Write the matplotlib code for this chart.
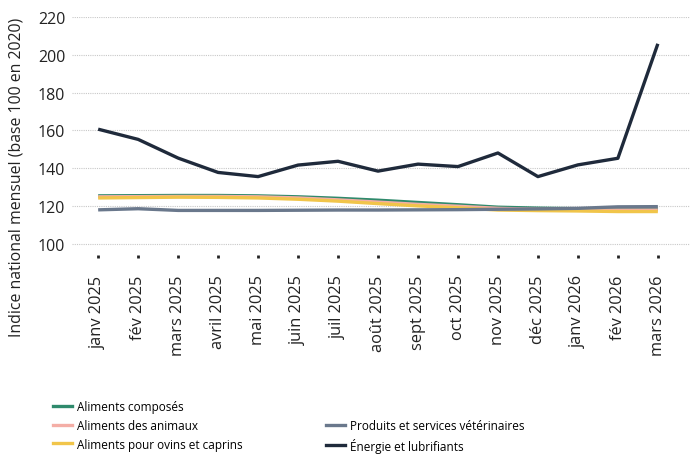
import matplotlib
matplotlib.use("Agg")
import matplotlib.pyplot as plt
from matplotlib.lines import Line2D

plt.rcParams['font.family'] = ['Open Sans', 'DejaVu Sans']

months = ["janv 2025", "fév 2025", "mars 2025", "avril 2025", "mai 2025", "juin 2025",
          "juil 2025", "août 2025", "sept 2025", "oct 2025", "nov 2025", "déc 2025",
          "janv 2026", "fév 2026", "mars 2026"]

aliments_composes = [125.3, 125.4, 125.5, 125.5, 125.3, 124.8, 124.0, 123.0, 121.8,
                     120.6, 119.3, 118.8, 118.5, 118.3, 118.2]
aliments_animaux = [124.8, 124.9, 125.0, 125.0, 124.8, 124.2, 123.2, 122.0, 120.8,
                    119.8, 118.7, 118.2, 118.0, 117.8, 117.8]
aliments_ovins = [124.2, 124.4, 124.6, 124.5, 124.2, 123.5, 122.5, 121.2, 120.0,
                  119.0, 117.8, 117.5, 117.3, 117.0, 117.0]
veterinaires = [117.9, 118.5, 117.6, 117.6, 117.6, 117.7, 117.8, 117.8, 117.9,
                118.0, 118.2, 118.4, 118.7, 119.5, 119.6]
energie = [160.6, 155.2, 145.3, 137.7, 135.5, 141.6, 143.6, 138.4, 142.1,
           140.8, 148.0, 135.5, 141.7, 145.2, 205.8]

yticks = [100, 120, 140, 160, 180, 200, 220]

series = [
    ("Aliments composés", aliments_composes, "#2f8a6c"),
    ("Aliments des animaux", aliments_animaux, "#f4aea6"),
    ("Aliments pour ovins et caprins", aliments_ovins, "#f1c54a"),
    ("Produits et services vétérinaires", veterinaires, "#6a788c"),
    ("Énergie et lubrifiants", energie, "#1f2a3b"),
]

fig = plt.figure(figsize=(6.94, 4.56), dpi=100)
ax = fig.add_axes([0.104, 0.4386, 0.89, 0.522])

x = list(range(len(months)))
for name, vals, col in series:
    ax.plot(x, vals, color=col, lw=2.4, solid_capstyle='butt', label=name)

ax.set_xlim(-0.65, 14.8)
ax.set_ylim(94, 220)
ax.set_yticks(yticks)
ax.set_xticks(x)
ax.set_xticklabels(months, rotation=90, fontsize=11.8, color="#222222")
ax.tick_params(axis='y', length=0, labelsize=11.5, labelcolor="#222222", pad=5)
ax.tick_params(axis='x', length=2, width=2, color="#222222", pad=12)
ax.grid(axis='y', color="#c8c8c8", linestyle=(0, (1, 1)), lw=0.8)
ax.set_axisbelow(True)
for s in ax.spines.values():
    s.set_visible(False)

fig.text(0.024, 0.611, "Indice national mensuel (base 100 en 2020)", rotation=90,
         ha='center', va='center', fontsize=11.4, color="#222222")

handles = [Line2D([], [], color=c, lw=2.4) for _, _, c in series]
labels = [n for n, _, _ in series]
blank = Line2D([], [], color='none')
handles = handles[:3] + [blank] + handles[3:]
labels = labels[:3] + [""] + labels[3:]
fig.legend(handles, labels, ncol=2, loc='upper left', bbox_to_anchor=(0.076, 0.121),
           frameon=False, fontsize=8.5, handlelength=1.6, handletextpad=0.42,
           columnspacing=7.1, labelspacing=0.5, borderaxespad=0, borderpad=0)

fig.savefig("out.png", dpi=100)
